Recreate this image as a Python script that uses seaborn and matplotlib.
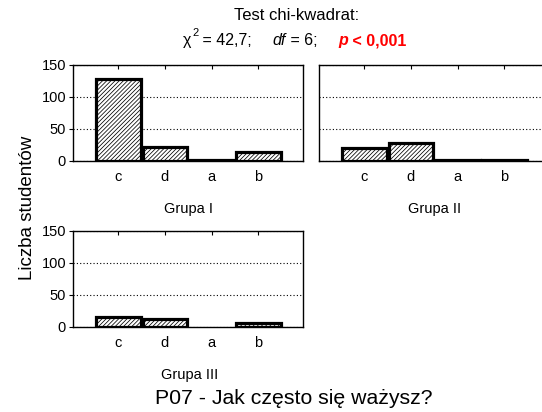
import matplotlib
matplotlib.use("Agg")
import matplotlib.pyplot as plt
import seaborn as sns
import numpy as np

sns.set_style("white")
plt.rcParams['font.family'] = ['Liberation Sans', 'DejaVu Sans']
plt.rcParams['hatch.linewidth'] = 0.55
for k in ['text.color', 'axes.labelcolor', 'xtick.color', 'ytick.color']:
    plt.rcParams[k] = 'black'

categories = ['c', 'd', 'a', 'b']
grupa_1 = [128, 22, 1, 14]
grupa_2 = [20, 28, 1, 1]
grupa_3 = [15, 13, 0, 6]
group_names = ['Grupa I', 'Grupa II', 'Grupa III']
y_ticks = [0, 50, 100, 150]

W, H = 542, 412
fig = plt.figure(figsize=(W / 100, H / 100), dpi=100)

def px_rect(l, t, r, b):
    return [l / W, 1 - b / H, (r - l) / W, (b - t) / H]

rects = [px_rect(73, 65, 303, 161), px_rect(319, 65, 549, 161), px_rect(73, 231, 303, 327)]
data = [grupa_1, grupa_2, grupa_3]
label_pos = [(188, 209), (435, 209), (190, 375)]

for i, (rect, vals) in enumerate(zip(rects, data)):
    ax = fig.add_axes(rect)
    sns.barplot(x=categories, y=vals, order=categories, ax=ax, color='white',
                saturation=1, edgecolor='black', linewidth=2.3, hatch='////////',
                width=0.96, zorder=3)
    for p in ax.patches:
        if p.get_height() == 0:
            p.set_visible(False)
    ax.set_xlim(-0.97, 3.96)
    ax.set_ylim(0, 150)
    ax.set_yticks(y_ticks)
    ax.set_axisbelow(True)
    ax.yaxis.grid(True, linestyle=(0, (1, 2)), color='black', lw=0.8)
    ax.xaxis.grid(False)
    for s in ax.spines.values():
        s.set_color('black')
        s.set_linewidth(1.0)
    ax.tick_params(axis='x', bottom=False, top=True, direction='in', length=3,
                   width=0.8, color='black', labelsize=10.5, pad=6.5)
    if i == 1:
        ax.tick_params(axis='y', left=False, labelleft=False)
    else:
        ax.tick_params(axis='y', left=True, direction='out', length=3, width=0.8,
                       color='black', labelsize=10.5, pad=2)
    ax.set_xlabel('')
    ax.set_ylabel('')
    lx, ly = label_pos[i]
    fig.text(lx / W, 1 - ly / H, group_names[i], ha='center', va='center', fontsize=10.5)

fig.text(28 / W, 1 - 208 / H, 'Liczba studentów', rotation=90, ha='center', va='center', fontsize=13.5)
fig.text(294 / W, 1 - 398 / H, 'P07 - Jak często się ważysz?', ha='center', va='center', fontsize=15.3)
fig.text(297 / W, 1 - 15 / H, 'Test chi-kwadrat:', ha='center', va='center', fontsize=12)

fs = 11.5
ov = fig.add_axes([0, 0, 1, 1])
ov.axis('off')
ov.set_xlim(0, W)
ov.set_ylim(0, H)
t0 = ov.text(183, H - 48, 'χ', fontsize=fs, va='bottom', ha='left')
t1 = ov.annotate('2', xy=(1, 0), xycoords=t0, xytext=(0.5, 7), textcoords='offset points',
                 fontsize=8, va='bottom', ha='left')
t = ov.annotate(' = 42,7;', xy=(1, 0), xycoords=(t1, t0), xytext=(0, 0), textcoords='offset points',
                fontsize=fs, va='bottom', ha='left')
t = ov.annotate('df', xy=(1, 0), xycoords=t, xytext=(15, 0), textcoords='offset points',
                fontsize=fs, va='bottom', ha='left', style='italic')
t = ov.annotate(' = 6;', xy=(1, 0), xycoords=t, xytext=(0, 0), textcoords='offset points',
                fontsize=fs, va='bottom', ha='left')
t = ov.annotate('p', xy=(1, 0), xycoords=t, xytext=(15, 0), textcoords='offset points',
                fontsize=fs, va='bottom', ha='left', style='italic', weight='bold', color='#ff0000')
t = ov.annotate(' < 0,001', xy=(1, 0), xycoords=t, xytext=(0, 0), textcoords='offset points',
                fontsize=fs, va='bottom', ha='left', weight='bold', color='#ff0000')

fig.savefig('out.png', dpi=100)
